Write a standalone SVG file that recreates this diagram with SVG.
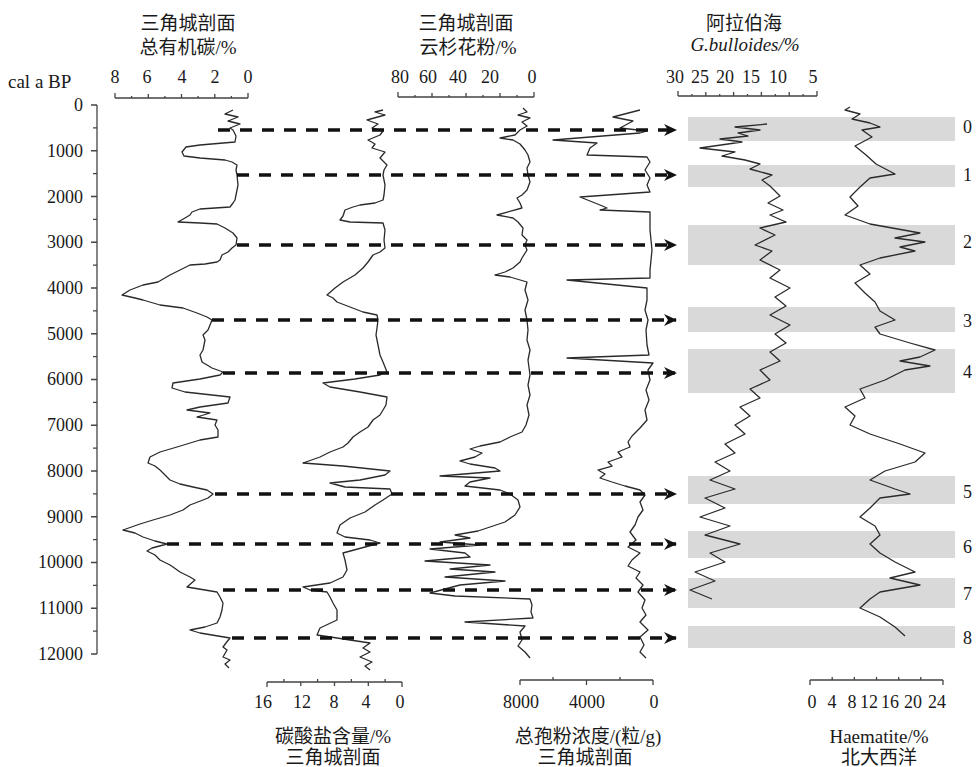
<svg xmlns="http://www.w3.org/2000/svg" width="976" height="767" viewBox="0 0 976 767">
<style>
.t{font-family:'Liberation Serif','Noto Sans CJK SC',serif;fill:#1a1a1a;}
.cn{font-family:'Liberation Serif','Noto Sans CJK SC',sans-serif;font-size:19px;fill:#1a1a1a;text-anchor:middle;}
.num{font-family:'Liberation Serif',serif;font-size:18px;fill:#1a1a1a;}
.mid{text-anchor:middle;}
.end{text-anchor:end;}
.ax{stroke:#444;stroke-width:1.3;fill:none;}
.crv{stroke:#2a2a2a;stroke-width:1.3;fill:none;stroke-linejoin:round;}
.band{fill:#d9d9d9;}
.dash{stroke:#111;stroke-width:3.5;stroke-dasharray:12 10;fill:none;marker-end:url(#ah);}
.lbl{font-family:'Liberation Serif',serif;font-size:18px;fill:#1a1a1a;}
</style>
<defs>
<marker id="ah" markerWidth="14" markerHeight="12" refX="12" refY="6" orient="auto" markerUnits="userSpaceOnUse">
<path d="M0,0 L13,6 L0,12 L4,6 Z" fill="#111"/>
</marker>
</defs>
<rect width="976" height="767" fill="#fff"/>

<g id="bands">
<rect class="band" x="688" y="117" width="267" height="24"/>
<rect class="band" x="688" y="165" width="267" height="22"/>
<rect class="band" x="688" y="225" width="267" height="40"/>
<rect class="band" x="688" y="307" width="267" height="25"/>
<rect class="band" x="688" y="349" width="267" height="44"/>
<rect class="band" x="688" y="476" width="267" height="28"/>
<rect class="band" x="688" y="531" width="267" height="27"/>
<rect class="band" x="688" y="578" width="267" height="30"/>
<rect class="band" x="688" y="626" width="267" height="22"/>
</g>

<g id="age-axis">
<path class="ax" d="M97,105 V654"/>
<path class="ax" d="M91,105H97M91,150.75H97M91,196.5H97M91,242.25H97M91,288H97M91,333.75H97M91,379.5H97M91,425.25H97M91,471H97M91,516.75H97M91,562.5H97M91,608.25H97M91,654H97"/>
<path class="ax" d="M93,127.9H97M93,173.6H97M93,219.4H97M93,265.1H97M93,310.9H97M93,356.6H97M93,402.4H97M93,448.1H97M93,493.9H97M93,539.6H97M93,585.4H97M93,631.1H97"/>
<text class="t" x="8" y="88" font-size="19">cal a BP</text>
<g class="num end">
<text x="83" y="111">0</text>
<text x="83" y="157">1000</text>
<text x="83" y="203">2000</text>
<text x="83" y="248">3000</text>
<text x="83" y="294">4000</text>
<text x="83" y="340">5000</text>
<text x="83" y="385">6000</text>
<text x="83" y="431">7000</text>
<text x="83" y="477">8000</text>
<text x="83" y="523">9000</text>
<text x="83" y="568">10000</text>
<text x="83" y="614">11000</text>
<text x="83" y="660">12000</text>
</g>
</g>

<g id="toc">
<text class="cn" x="188" y="30">三角城剖面</text>
<text class="cn" x="188" y="54">总有机碳/%</text>
<g class="num mid">
<text x="115" y="83">8</text><text x="147" y="83">6</text><text x="182" y="83">4</text><text x="215" y="83">2</text><text x="248" y="83">0</text>
</g>
<path class="ax" d="M115,98H248M115,98V93M148.3,98V94M181.5,98V94M214.8,98V94M248,98V93M131.6,98V96M164.9,98V96M198.1,98V96M231.4,98V96"/>
<polyline class="crv" points="233,110 225,114 238,117 228,121 240,124 230,128 233,130 236,136 235,142 200,145 186,147 182,152 184,156 200,158 225,160 232,162 237,165 236,170 237,175 238,185 236,195 235,200 233,203 230,207 200,209 192,212 190,215 185,218 178,222 200,223 217,224 225,228 233,233 237,238 236,245 232,248 228,252 222,255 220,260 217,262 205,264 190,265 180,270 170,275 158,282 143,285 130,290 122,295 135,298 143,300 160,305 183,308 197,313 207,317 212,320 210,325 208,330 203,335 205,340 204,345 203,350 200,355 202,362 212,368 223,372 220,375 200,379 173,383 172,388 185,392 230,397 228,403 200,407 187,410 210,413 197,417 217,420 215,425 218,430 218,437 200,440 177,447 160,452 150,457 148,463 155,466 160,470 165,475 170,480 180,484 193,487 207,490 213,494 208,498 203,500 190,505 183,510 170,515 153,520 140,524 123,530 135,533 143,537 155,541 167,544 152,548 147,551 155,555 160,560 170,565 173,567 180,572 190,577 195,580 187,587 205,590 217,592 220,597 223,603 222,610 220,617 217,623 205,627 190,630 200,633 230,638 226,643 223,647 227,650 223,657 230,660 225,664 229,668"/>
</g>

<g id="carbonate">
<polyline class="crv" points="383,110 375,112 385,115 367,120 378,124 372,128 383,131 380,135 368,140 375,144 372,148 385,152 380,158 387,165 384,170 383,175 385,185 384,195 383,200 375,203 360,205 353,207 345,210 343,216 340,220 350,222 383,223 385,230 384,240 385,248 380,252 373,255 368,262 363,268 355,275 343,282 335,288 327,295 333,298 337,302 350,307 363,312 377,315 378,320 377,328 376,335 378,345 380,355 383,362 387,372 380,375 355,379 323,383 330,387 360,392 387,397 386,405 383,410 380,415 373,420 368,427 360,432 353,437 348,443 343,447 330,452 320,457 303,463 343,466 390,471 385,475 360,480 330,483 345,487 390,489 392,494 383,500 375,505 365,512 350,518 340,525 337,533 345,537 370,540 380,543 365,547 343,553 345,560 347,570 343,577 330,583 303,587 310,590 327,592 330,597 333,603 337,610 337,620 320,628 317,635 337,638 350,640 370,643 363,648 370,652 360,657 372,662 365,666 370,670"/>
<path class="ax" d="M267,682H402M267,682V687M300.8,682V686M334.5,682V686M368.3,682V686M402,682V687M283.9,682V679M317.6,682V679M351.4,682V679M385.1,682V679"/>
<g class="num mid">
<text x="263" y="708">16</text><text x="302" y="708">12</text><text x="334" y="708">8</text><text x="366" y="708">4</text><text x="400" y="708">0</text>
</g>
<text class="cn" x="333" y="743">碳酸盐含量/%</text>
<text class="cn" x="333" y="764">三角城剖面</text>
</g>

<g id="spruce">
<text class="cn" x="466" y="30">三角城剖面</text>
<text class="cn" x="468" y="54">云杉花粉/%</text>
<g class="num mid">
<text x="400" y="83">80</text><text x="428" y="83">60</text><text x="458" y="83">40</text><text x="490" y="83">20</text><text x="532" y="83">0</text>
</g>
<path class="ax" d="M398,97H534M398,97V92M432,97V93M466,97V93M500,97V93M534,97V92M415,97V95M449,97V95M483,97V95M517,97V95"/>
<polyline class="crv" points="523,108 527,112 518,115 530,118 522,122 527,126 520,130 515,135 500,138 513,140 520,144 525,150 528,155 530,162 527,168 528,175 530,182 527,190 522,195 517,198 520,203 522,208 497,215 513,218 518,222 523,228 522,235 527,240 525,245 527,250 522,258 520,262 513,268 505,272 495,275 510,277 527,282 525,290 528,300 525,310 527,320 528,330 527,340 530,350 528,360 530,375 528,385 530,395 527,405 529,415 526,425 522,432 510,437 500,442 480,446 470,449 482,453 475,457 460,461 470,464 495,468 500,471 440,476 490,478 470,482 465,486 500,490 510,494 518,500 520,507 515,515 505,522 490,527 478,531 455,535 470,538 440,542 480,545 430,549 465,553 470,557 425,561 490,565 450,569 495,572 445,577 505,581 460,585 430,593 455,596 530,599 532,605 531,612 533,618 465,622 525,626 520,632 522,640 518,646 525,652 530,658"/>
</g>

<g id="pollen">
<polyline class="crv" points="640,110 613,117 633,121 620,128 647,131 640,133 553,140 597,143 590,148 587,155 647,157 650,162 645,170 650,178 647,185 650,192 580,197 600,205 607,208 600,210 650,212 650,230 652,250 650,270 650,278 567,280 647,288 647,300 645,310 648,320 646,330 647,345 649,355 567,358 653,363 648,370 650,380 646,390 649,400 645,410 647,420 640,428 632,436 628,442 630,447 618,452 622,457 608,462 612,466 598,470 605,474 600,478 612,482 625,486 640,490 645,495 640,502 643,510 638,517 635,525 630,532 636,540 628,547 640,553 632,560 628,566 640,572 636,578 643,585 638,592 645,600 642,608 646,615 640,622 648,630 640,637 644,645 640,652 646,658"/>
<path class="ax" d="M520,680H653M520,680V685M553,680V677M586.5,680V685M620,680V677M653,680V685"/>
<g class="num mid">
<text x="521" y="708">8000</text><text x="587" y="708">4000</text><text x="654" y="708">0</text>
</g>
<text class="cn" x="588" y="743">总孢粉浓度/(粒/g)</text>
<text class="cn" x="585" y="764">三角城剖面</text>
</g>

<g id="gbulloides">
<text class="cn" x="744" y="30">阿拉伯海</text>
<text class="t mid" x="745" y="51" font-size="19" font-style="italic">G.bulloides/%</text>
<g class="num mid">
<text x="675" y="83">30</text><text x="700" y="83">25</text><text x="725" y="83">20</text><text x="751" y="83">15</text><text x="778" y="83">10</text><text x="813" y="83">5</text>
</g>
<path class="ax" d="M678,96H817M678,96V91M705.8,96V92M733.6,96V92M761.4,96V92M789.2,96V92M817,96V91M691.9,96V94M719.7,96V94M747.5,96V94M775.3,96V94M803.1,96V94"/>
<polyline class="crv" points="767,124 735,127 760,130 738,133 748,136 720,139 742,142 700,148 735,152 722,156 745,160 760,164 750,169 772,175 762,180 770,186 780,196 768,203 783,210 770,215 786,222 760,228 775,235 755,245 772,251 760,260 780,270 770,278 790,288 775,297 786,306 770,315 790,325 775,334 786,343 770,352 780,361 760,370 770,380 750,389 760,398 740,407 750,416 735,425 745,434 725,444 735,453 715,462 730,471 710,480 735,489 705,498 725,508 700,517 730,526 705,535 740,544 710,553 725,562 695,572 715,581 690,590 712,599"/>
</g>

<g id="haematite">
<polyline class="crv" points="850,107 845,110 860,114 852,119 870,123 880,127 862,130 872,137 855,146 866,155 876,164 895,174 870,178 860,187 850,197 858,206 845,215 870,224 920,233 895,238 925,242 900,247 915,251 880,258 860,265 870,274 855,283 865,293 875,302 880,311 895,320 875,327 880,334 910,343 935,350 920,357 900,361 930,366 905,370 895,375 885,380 860,389 865,398 845,407 855,416 850,425 870,434 900,444 925,453 915,462 885,471 870,480 895,489 910,494 880,498 870,508 860,517 875,526 880,535 870,544 880,553 895,562 915,572 890,578 920,585 880,592 870,599 860,608 880,617 895,627 905,636"/>
<path class="ax" d="M810,680H943M810,680V685M832.2,680V677M854.3,680V677M876.5,680V677M898.7,680V677M920.8,680V677M943,680V685"/>
<g class="num mid" font-size="17">
<text x="812" y="708">0</text><text x="832" y="708">4</text><text x="852" y="708">8</text><text x="869" y="708">12</text><text x="890" y="708">16</text><text x="913" y="708">20</text><text x="937" y="708">24</text>
</g>
<text class="t mid" x="879" y="743" font-size="19">Haematite/%</text>
<text class="cn" x="879" y="764">北大西洋</text>
</g>

<g id="band-labels" class="lbl">
<text x="963" y="133">0</text>
<text x="963" y="181">1</text>
<text x="963" y="248">2</text>
<text x="963" y="327">3</text>
<text x="963" y="378">4</text>
<text x="963" y="498">5</text>
<text x="963" y="553">6</text>
<text x="963" y="600">7</text>
<text x="963" y="644">8</text>
</g>

<g id="connectors">
<path class="dash" d="M218,130H676"/>
<path class="dash" d="M237,175H676"/>
<path class="dash" d="M237,245H676"/>
<path class="dash" d="M212,320H676"/>
<path class="dash" d="M223,373H676"/>
<path class="dash" d="M215,494H676"/>
<path class="dash" d="M167,544H676"/>
<path class="dash" d="M223,590H676"/>
<path class="dash" d="M232,638H676"/>
</g>
</svg>
